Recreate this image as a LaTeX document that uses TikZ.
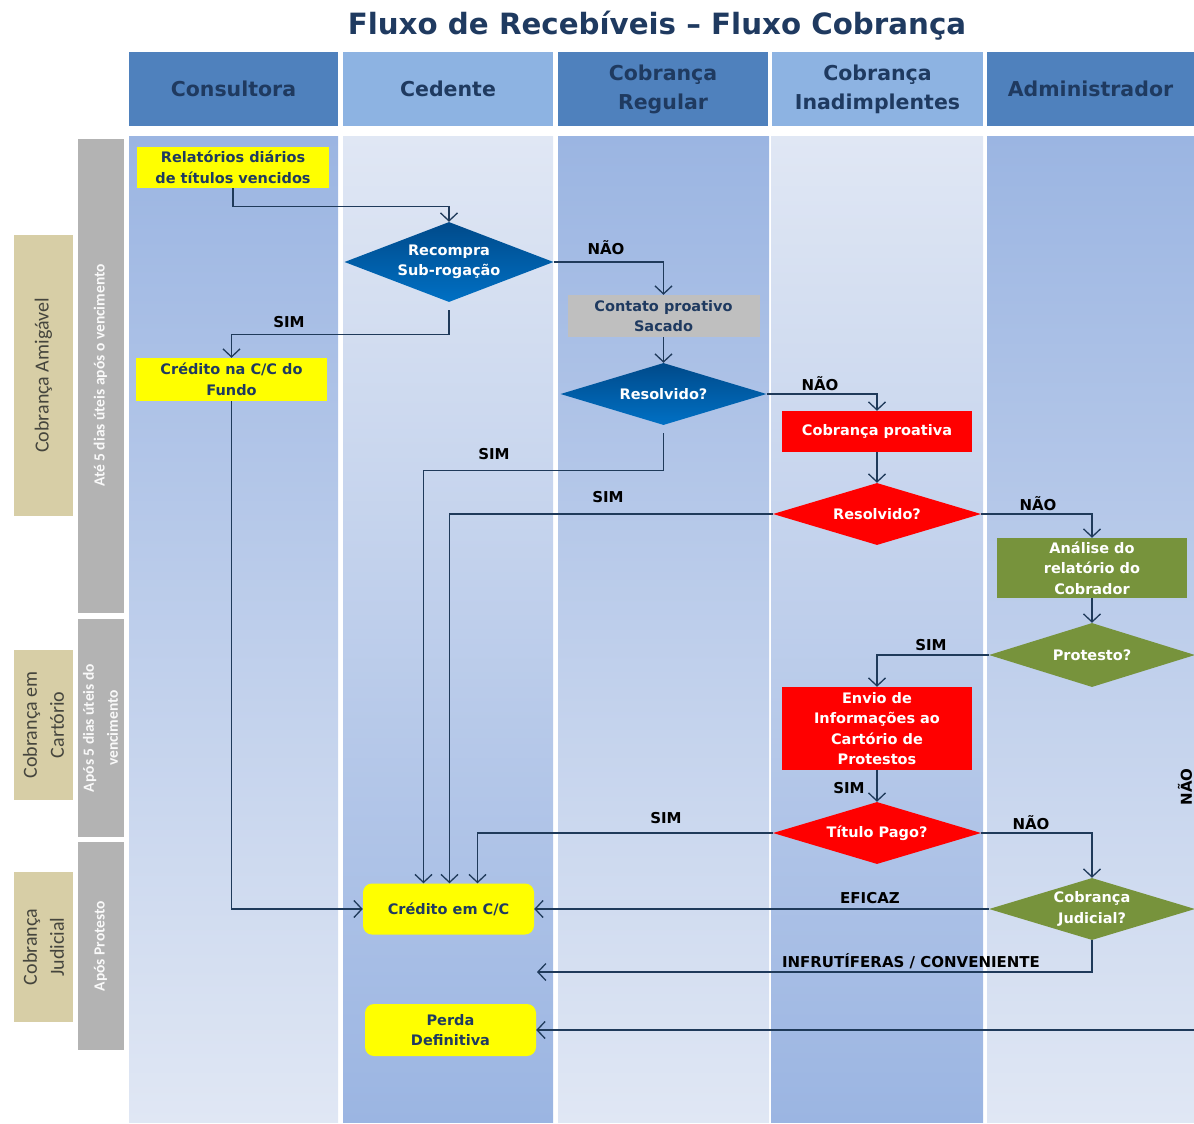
\documentclass[tikz,border=0pt]{standalone}
\usepackage{fontspec}
\setmainfont{DejaVu Sans}
\newfontfamily\narrowfont{Carlito}
\usetikzlibrary{shapes.geometric,arrows.meta,calc}
\definecolor{hdrdark}{HTML}{4F81BD}
\definecolor{hdrlight}{HTML}{8DB3E2}
\definecolor{lanedark}{HTML}{9BB5E2}
\definecolor{lanelight}{HTML}{E0E7F4}
\definecolor{navy}{HTML}{1F3A60}
\definecolor{linec}{HTML}{1F3A5A}
\definecolor{tanbox}{HTML}{D7CEA6}
\definecolor{tantext}{HTML}{45453D}
\definecolor{graybox}{HTML}{B3B3B3}
\definecolor{cgray}{HTML}{BFBFBF}
\definecolor{yel}{HTML}{FFFF00}
\definecolor{cred}{HTML}{FF0000}
\definecolor{cgreen}{HTML}{77933C}
\definecolor{bluetop}{HTML}{004A8A}
\definecolor{bluebot}{HTML}{0070C4}
\begin{document}
\begin{tikzpicture}[x=1pt,y=-1pt,
  hdr/.style={inner sep=0pt, text=navy, align=center, minimum height=74pt,
    font=\bfseries\fontsize{20.5}{29}\selectfont},
  box/.style={inner sep=0pt, align=center, font=\bfseries\fontsize{14.5}{20.5}\selectfont},
  dia/.style={shape=diamond, aspect=3, inner sep=0pt, align=center, text=white,
    font=\bfseries\fontsize{14.5}{20.5}\selectfont},
  bluedia/.style={dia, top color=bluetop, bottom color=bluebot},
  reddia/.style={dia, fill=cred},
  greendia/.style={dia, fill=cgreen},
  lbl/.style={inner sep=0pt, text=black, font=\bfseries\fontsize{15}{18}\selectfont},
  phase/.style={inner sep=0pt, fill=tanbox, text=tantext, align=center,
    font=\narrowfont\fontsize{20}{27}\selectfont},
  period/.style={inner sep=0pt, fill=graybox, text=white!95!gray, align=center,
    font=\narrowfont\bfseries\fontsize{15.5}{24}\selectfont},
  conn/.style={draw=linec, line width=1.3pt, -{Straight Barb[length=8pt,width=17pt]}},
  plain/.style={draw=linec, line width=1.3pt}
]
\useasboundingbox (0,0) rectangle (1194,1124);

% title
\node[inner sep=0pt, text=navy, font=\bfseries\fontsize{29.3}{33}\selectfont] (title) at (657,26) {Fluxo de Recebíveis – Fluxo Cobrança};

% headers
\node[hdr, fill=hdrdark, minimum width=209pt] (h1) at (233.5,89) {Consultora};
\node[hdr, fill=hdrlight, minimum width=210pt] (h2) at (448,89) {Cedente};
\node[hdr, fill=hdrdark, minimum width=210pt] (h3) at (663,89) {Cobrança\\Regular};
\node[hdr, fill=hdrlight, minimum width=211pt] (h4) at (877.5,89) {Cobrança\\Inadimplentes};
\node[hdr, fill=hdrdark, minimum width=207pt] (h5) at (1090.5,89) {Administrador};

% lanes
\shade[top color=lanedark, bottom color=lanelight] (129,136) rectangle (338,1122);
\shade[top color=lanelight, bottom color=lanedark] (343,136) rectangle (553,1122);
\shade[top color=lanedark, bottom color=lanelight] (558,136) rectangle (769,1122);
\shade[top color=lanelight, bottom color=lanedark] (771,136) rectangle (983,1122);
\shade[top color=lanedark, bottom color=lanelight] (987,136) rectangle (1194,1122);

% phases
\node[phase, minimum width=281pt, minimum height=59pt, rotate=90] (p1) at (43.5,375.5) {Cobrança Amigável};
\node[phase, minimum width=150pt, minimum height=59pt, rotate=90] (p2) at (43.5,725) {Cobrança em\\Cartório};
\node[phase, minimum width=150pt, minimum height=59pt, rotate=90] (p3) at (43.5,947) {Cobrança\\Judicial};
\node[period, minimum width=474pt, minimum height=46pt, rotate=90] (g1) at (100.5,375.5) {Até 5 dias úteis após o vencimento};
\node[period, minimum width=218pt, minimum height=46pt, rotate=90] (g2) at (100.5,728) {Após 5 dias úteis do\\vencimento};
\node[period, minimum width=208pt, minimum height=46pt, rotate=90] (g3) at (100.5,946) {Após Protesto};

% nodes
\node[box, fill=yel, text=navy, minimum width=192pt, minimum height=41pt] (rel) at (233,167.5) {Relatórios diários\\de títulos vencidos};
\node[bluedia, minimum width=209pt, minimum height=80pt] (recompra) at (449,262) {Recompra\\Sub-rogação};
\node[box, fill=cgray, text=navy, minimum width=192pt, minimum height=42pt] (contato) at (663.5,316) {Contato proativo\\Sacado};
\node[bluedia, minimum width=206pt, minimum height=62pt] (res1) at (663.5,394) {Resolvido?};
\node[box, fill=cred, text=white, minimum width=190pt, minimum height=41pt] (cobpro) at (877,431.5) {Cobrança proativa};
\node[reddia, minimum width=208pt, minimum height=62pt] (res2) at (877,514) {Resolvido?};
\node[box, fill=cgreen, text=white, minimum width=190pt, minimum height=60pt] (analise) at (1092,568) {Análise do\\relatório do\\Cobrador};
\node[greendia, minimum width=206pt, minimum height=64pt] (protesto) at (1092,655) {Protesto?};
\node[box, fill=cred, text=white, minimum width=190pt, minimum height=83pt] (envio) at (877,728.5) {Envio de\\Informações ao\\Cartório de\\Protestos};
\node[reddia, minimum width=208pt, minimum height=62pt] (titulo) at (877,833) {Título Pago?};
\node[greendia, minimum width=206pt, minimum height=62pt] (judicial) at (1092,909) {Cobrança\\Judicial?};
\node[box, fill=yel, text=navy, minimum width=191pt, minimum height=43pt] (cred1) at (231.5,379.5) {Crédito na C/C do\\Fundo};
\node[box, fill=yel, text=navy, rounded corners=9pt, minimum width=171pt, minimum height=51pt] (credcc) at (448.5,909) {Crédito em C/C};
\node[box, fill=yel, text=navy, rounded corners=9pt, minimum width=171pt, minimum height=52pt] (perda) at (450.5,1030) {Perda\\Definitiva};

\coordinate (infend) at (537,972);
\coordinate (edge) at (1194,1030);

% connectors
\draw[conn] (rel.south) -- ++(0,18) -| (recompra.north);
\draw[conn] (recompra.east) -| (contato.north);
\draw[conn] ($(recompra.south)+(0,8)$) -- ++(0,24) -| (cred1.north);
\draw[conn] (contato.south) -- (res1.north);
\draw[conn] (res1.east) -| (cobpro.north);
\draw[conn] ($(res1.south)+(0,8)$) -- ++(0,37) -| ($(credcc.north)+(-25,0)$);
\draw[conn] (cobpro.south) -- (res2.north);
\draw[conn] (res2.west) -| ($(credcc.north)+(1,0)$);
\draw[conn] (res2.east) -| (analise.north);
\draw[conn] (analise.south) -- (protesto.north);
\draw[conn] (protesto.west) -| (envio.north);
\draw[conn] (envio.south) -- (titulo.north);
\draw[conn] (titulo.west) -| ($(credcc.north)+(29,0)$);
\draw[conn] (titulo.east) -| (judicial.north);
\draw[conn] (judicial.west) -- (credcc.east);
\draw[conn] (judicial.south) |- (infend);
\draw[conn] (cred1.south) |- (credcc.west);
\draw[conn] (edge) -- (perda.east);

% labels
\node[lbl] (l1) at (606,248) {NÃO};
\node[lbl] (l2) at (289,322) {SIM};
\node[lbl] (l3) at (820,384) {NÃO};
\node[lbl] (l4) at (494,454) {SIM};
\node[lbl] (l5) at (608,497) {SIM};
\node[lbl] (l6) at (1038,504) {NÃO};
\node[lbl] (l7) at (931,645) {SIM};
\node[lbl] (l8) at (849,788) {SIM};
\node[lbl] (l9) at (666,818) {SIM};
\node[lbl] (l10) at (1031,823) {NÃO};
\node[lbl] (l11) at (870,898) {EFICAZ};
\node[lbl] (l12) at (911,961) {INFRUTÍFERAS / CONVENIENTE};
\node[lbl, rotate=90] (l13) at (1185,787) {NÃO};
\end{tikzpicture}
\end{document}
